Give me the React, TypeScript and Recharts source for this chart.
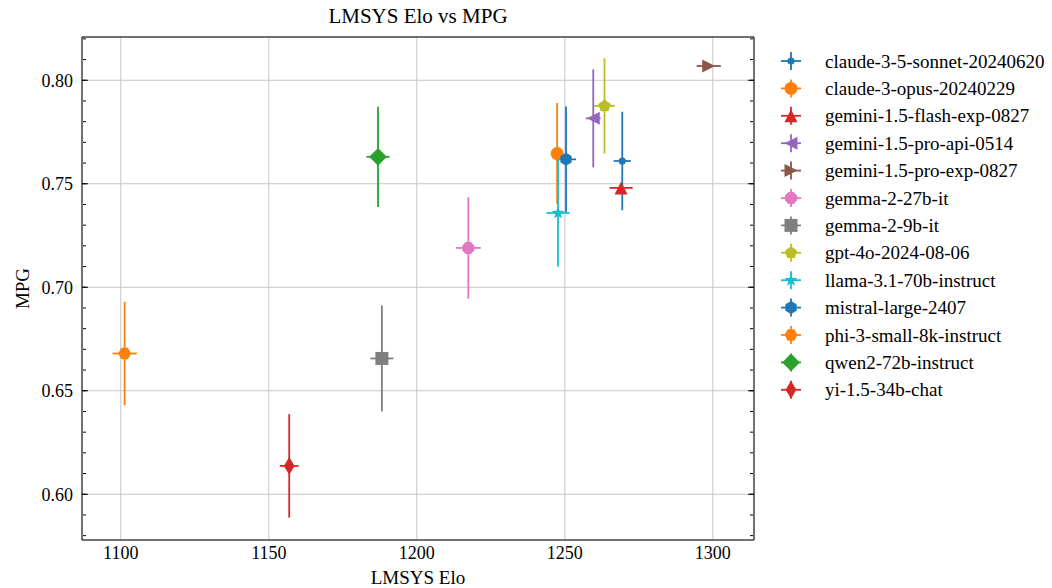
import React from 'react';
import { ScatterChart, Scatter, XAxis, YAxis, CartesianGrid, ErrorBar, Legend, Label } from 'recharts';

const models = [
  'claude-3-5-sonnet-20240620',
  'claude-3-opus-20240229',
  'gemini-1.5-flash-exp-0827',
  'gemini-1.5-pro-api-0514',
  'gemini-1.5-pro-exp-0827',
  'gemma-2-27b-it',
  'gemma-2-9b-it',
  'gpt-4o-2024-08-06',
  'llama-3.1-70b-instruct',
  'mistral-large-2407',
  'phi-3-small-8k-instruct',
  'qwen2-72b-instruct',
  'yi-1.5-34b-chat',
];
const elo = [1269.4, 1247.4, 1269.0, 1259.6, 1298.6, 1217.4, 1188.2, 1263.4, 1247.7, 1250.4, 1101.3, 1186.9, 1156.9];
const eloErr = [2.9, 0, 3.9, 2.5, 4.1, 4.2, 3.9, 3.5, 3.9, 3.4, 4.1, 3.9, 3.2];
const mpg = [0.761, 0.7646, 0.748, 0.7816, 0.8069, 0.719, 0.6656, 0.7876, 0.7359, 0.7618, 0.668, 0.763, 0.6137];
const mpgErr = [0.0238, 0.0244, 0, 0.0237, 0, 0.0245, 0.0256, 0.023, 0.026, 0.0255, 0.025, 0.0242, 0.025];

const xTicks = [1100, 1150, 1200, 1250, 1300];
const yTicks = [0.6, 0.65, 0.7, 0.75, 0.8];
const xMinorTicks = [1090, 1100, 1110, 1120, 1130, 1140, 1150, 1160, 1170, 1180, 1190, 1200, 1210, 1220, 1230, 1240, 1250, 1260, 1270, 1280, 1290, 1300, 1310];
const yMinorTicks = [0.58, 0.59, 0.6, 0.61, 0.62, 0.63, 0.64, 0.65, 0.66, 0.67, 0.68, 0.69, 0.7, 0.71, 0.72, 0.73, 0.74, 0.75, 0.76, 0.77, 0.78, 0.79, 0.8, 0.81, 0.82];

const X_DOMAIN: [number, number] = [1086.9, 1313.9];
const Y_DOMAIN: [number, number] = [0.5779, 0.8209];

const COLORS = ['#1f77b4', '#ff7f0e', '#d62728', '#9467bd', '#8c564b', '#e377c2', '#7f7f7f', '#bcbd22', '#17becf', '#1f77b4', '#ff7f0e', '#2ca02c', '#d62728'];
const MARKERS = ['.', 'o', '^', '<', '>', '8', 's', 'p', '*', 'h', 'H', 'D', 'd'];

const FONT = '"Liberation Serif", "DejaVu Serif", serif';
const R = 6.5;

function poly(n: number, rad: number, startDeg: number, cx: number, cy: number) {
  const pts: string[] = [];
  for (let i = 0; i < n; i++) {
    const a = ((startDeg + (360 / n) * i) * Math.PI) / 180;
    pts.push(`${cx + rad * Math.cos(a)},${cy + rad * Math.sin(a)}`);
  }
  return pts.join(' ');
}

function star(cx: number, cy: number, ro: number, ri: number) {
  const pts: string[] = [];
  for (let i = 0; i < 10; i++) {
    const rad = i % 2 === 0 ? ro : ri;
    const a = ((-90 + 36 * i) * Math.PI) / 180;
    pts.push(`${cx + rad * Math.cos(a)},${cy + rad * Math.sin(a)}`);
  }
  return pts.join(' ');
}

function MarkerGlyph({ kind, cx, cy, color }: { kind: string; cx: number; cy: number; color: string }) {
  const r = R;
  switch (kind) {
    case '.':
      return <circle cx={cx} cy={cy} r={3.6} fill={color} />;
    case 'o':
      return <circle cx={cx} cy={cy} r={r} fill={color} />;
    case '^':
      return <polygon points={`${cx},${cy - r} ${cx + r},${cy + r} ${cx - r},${cy + r}`} fill={color} />;
    case '<':
      return <polygon points={`${cx - r},${cy} ${cx + r},${cy - r} ${cx + r},${cy + r}`} fill={color} />;
    case '>':
      return <polygon points={`${cx + r},${cy} ${cx - r},${cy - r} ${cx - r},${cy + r}`} fill={color} />;
    case '8':
      return <polygon points={poly(8, r, 22.5, cx, cy)} fill={color} />;
    case 's':
      return <rect x={cx - r} y={cy - r} width={2 * r} height={2 * r} fill={color} />;
    case 'p':
      return <polygon points={poly(5, r, -90, cx, cy)} fill={color} />;
    case '*':
      return <polygon points={star(cx, cy, r * 1.05, r * 0.42)} fill={color} />;
    case 'h':
      return <polygon points={poly(6, r, -90, cx, cy)} fill={color} />;
    case 'H':
      return <polygon points={poly(6, r, 0, cx, cy)} fill={color} />;
    case 'D': {
      const d = r * 1.36;
      return <polygon points={`${cx},${cy - d} ${cx + d},${cy} ${cx},${cy + d} ${cx - d},${cy}`} fill={color} />;
    }
    case 'd': {
      const d = r * 1.38;
      const w = d * 0.6;
      return <polygon points={`${cx},${cy - d} ${cx + w},${cy} ${cx},${cy + d} ${cx - w},${cy}`} fill={color} />;
    }
    default:
      return <circle cx={cx} cy={cy} r={r} fill={color} />;
  }
}

const seriesData = models.map((m, i) => [{ x: elo[i], y: mpg[i], ex: eloErr[i], ey: mpgErr[i], name: m }]);

const EmptyTick = () => <g />;

function LegendContent() {
  const rowH = 27.4;
  return (
    <svg width={280} height={370} style={{ display: 'block', overflow: 'visible' }}>
      {models.map((m, i) => {
        const cy = 14 + i * rowH;
        const cx = 17;
        return (
          <g key={m}>
            <line x1={cx - 10} x2={cx + 10} y1={cy} y2={cy} stroke={COLORS[i]} strokeWidth={1.8} />
            <line x1={cx} x2={cx} y1={cy - 9} y2={cy + 9} stroke={COLORS[i]} strokeWidth={1.8} />
            <MarkerGlyph kind={MARKERS[i]} cx={cx} cy={cy} color={COLORS[i]} />
            <text x={51} y={cy} dominantBaseline="central" fontFamily={FONT} fontSize={19} fill="#000">
              {m}
            </text>
          </g>
        );
      })}
    </svg>
  );
}

export default function App() {
  const tickStyle = { fill: '#000', fontSize: 18, fontFamily: FONT };
  const black = { stroke: '#000', strokeWidth: 1 };
  return (
    <div style={{ position: 'absolute', left: 0, top: 0, width: 1052, height: 588, background: '#fff' }}>
      <div
        style={{
          position: 'absolute',
          left: 82,
          width: 672,
          top: 3,
          textAlign: 'center',
          fontFamily: FONT,
          fontSize: 21,
          color: '#000',
          lineHeight: '26px',
        }}
      >
        LMSYS Elo vs MPG
      </div>
      <ScatterChart width={1052} height={588} margin={{ top: 37, right: 298, bottom: 0, left: 0 }}>
        <CartesianGrid xAxisId="main" yAxisId="main" stroke="#c6c6c6" strokeWidth={1} />
        <XAxis
          xAxisId="main"
          dataKey="x"
          type="number"
          domain={X_DOMAIN}
          allowDataOverflow
          ticks={xTicks}
          interval={0}
          height={48}
          tickLine={false}
          tickSize={0}
          tickMargin={6}
          axisLine={black}
          tick={tickStyle}
        >
          <Label value="LMSYS Elo" position="insideBottom" offset={4} style={{ fill: '#000', fontSize: 19, fontFamily: FONT }} />
        </XAxis>
        <XAxis xAxisId="bMaj" orientation="bottom" mirror type="number" domain={X_DOMAIN} allowDataOverflow ticks={xTicks} interval={0} height={1} tick={EmptyTick} tickFormatter={() => ''} tickSize={6} tickLine={black} axisLine={false} />
        <XAxis xAxisId="bMin" orientation="bottom" mirror type="number" domain={X_DOMAIN} allowDataOverflow ticks={xMinorTicks} interval={0} height={1} tick={EmptyTick} tickFormatter={() => ''} tickSize={3} tickLine={black} axisLine={false} />
        <XAxis xAxisId="tMaj" orientation="top" mirror type="number" domain={X_DOMAIN} allowDataOverflow ticks={xTicks} interval={0} height={1} tick={EmptyTick} tickFormatter={() => ''} tickSize={6} tickLine={black} axisLine={black} />
        <XAxis xAxisId="tMin" orientation="top" mirror type="number" domain={X_DOMAIN} allowDataOverflow ticks={xMinorTicks} interval={0} height={1} tick={EmptyTick} tickFormatter={() => ''} tickSize={3} tickLine={black} axisLine={false} />
        <YAxis
          yAxisId="main"
          dataKey="y"
          type="number"
          domain={Y_DOMAIN}
          allowDataOverflow
          ticks={yTicks}
          interval={0}
          width={82}
          tickLine={false}
          tickSize={0}
          tickMargin={9}
          axisLine={black}
          tick={tickStyle}
          tickFormatter={(v: number) => v.toFixed(2)}
        >
          <Label
            content={(props: any) => {
              const vb = props.viewBox || { x: 0, y: 37, width: 82, height: 503 };
              const cy = vb.y + vb.height / 2;
              const cx = 22;
              return (
                <text x={cx} y={cy} transform={`rotate(-90, ${cx}, ${cy})`} textAnchor="middle" dominantBaseline="central" fontFamily={FONT} fontSize={19} fill="#000">
                  MPG
                </text>
              );
            }}
          />
        </YAxis>
        <YAxis yAxisId="lMaj" orientation="left" mirror type="number" domain={Y_DOMAIN} allowDataOverflow ticks={yTicks} interval={0} width={1} tick={EmptyTick} tickFormatter={() => ''} tickSize={6} tickLine={black} axisLine={false} />
        <YAxis yAxisId="lMin" orientation="left" mirror type="number" domain={Y_DOMAIN} allowDataOverflow ticks={yMinorTicks} interval={0} width={1} tick={EmptyTick} tickFormatter={() => ''} tickSize={3} tickLine={black} axisLine={false} />
        <YAxis yAxisId="rMaj" orientation="right" mirror type="number" domain={Y_DOMAIN} allowDataOverflow ticks={yTicks} interval={0} width={1} tick={EmptyTick} tickFormatter={() => ''} tickSize={6} tickLine={black} axisLine={black} />
        <YAxis yAxisId="rMin" orientation="right" mirror type="number" domain={Y_DOMAIN} allowDataOverflow ticks={yMinorTicks} interval={0} width={1} tick={EmptyTick} tickFormatter={() => ''} tickSize={3} tickLine={black} axisLine={false} />
        <Legend
          layout="vertical"
          align="center"
          verticalAlign="middle"
          content={() => <LegendContent />}
          wrapperStyle={{ left: 774, top: 47, width: 280, height: 370 }}
        />
        {models.map((m, i) => (
          <Scatter
            key={m}
            name={m}
            xAxisId="main"
            yAxisId="main"
            data={seriesData[i]}
            fill={COLORS[i]}
            isAnimationActive={false}
            shape={(p: any) => <MarkerGlyph kind={MARKERS[i]} cx={p.cx} cy={p.cy} color={COLORS[i]} />}
          >
            <ErrorBar dataKey="ey" direction="y" width={0} stroke={COLORS[i]} strokeWidth={1.8} />
            <ErrorBar dataKey="ex" direction="x" width={0} stroke={COLORS[i]} strokeWidth={1.8} />
          </Scatter>
        ))}
      </ScatterChart>
    </div>
  );
}
